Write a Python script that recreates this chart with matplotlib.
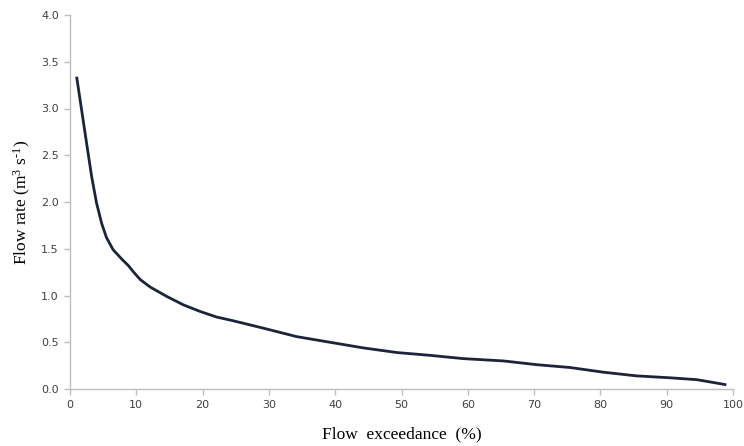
import numpy as np
import matplotlib.pyplot as plt

plt.rcParams['mathtext.fontset'] = 'custom'
plt.rcParams['mathtext.rm'] = 'Liberation Serif'
plt.rcParams['mathtext.it'] = 'Liberation Serif:italic'

# values
exceedance = [1.0, 1.76, 2.5, 3.27, 4.0, 4.78, 5.5, 6.5, 7.8, 8.8, 9.6, 10.6,
              12.1, 13.1, 14.6, 17.1, 19.6, 22.1, 24.6, 29.2, 34.2, 39.2, 44.2,
              49.3, 54.3, 59.3, 65.4, 70.4, 75.4, 80.4, 85.5, 90.5, 94.5, 97.0, 99.0]
flow = [3.34, 2.98, 2.63, 2.27, 1.99, 1.77, 1.62, 1.49, 1.39, 1.32, 1.25, 1.17,
        1.09, 1.05, 0.99, 0.90, 0.83, 0.77, 0.73, 0.65, 0.56, 0.50, 0.44,
        0.39, 0.36, 0.325, 0.30, 0.26, 0.23, 0.18, 0.14, 0.12, 0.10, 0.07, 0.045]

xticks = np.arange(0, 101, 10)
yticks = np.arange(0, 4.01, 0.5)

fig = plt.figure(figsize=(7.44, 4.46), dpi=100)
ax = fig.add_axes([70/744, 57/446, 663/744, 374/446])

ax.plot(exceedance, flow, color='#1b2438', lw=2.0, solid_capstyle='butt',
        solid_joinstyle='round')

ax.set_xlim(0, 100)
ax.set_ylim(0, 4.0)
ax.set_xticks(xticks)
ax.set_yticks(yticks)
ax.set_yticklabels(['%.1f' % v for v in yticks])

for s in ['top', 'right']:
    ax.spines[s].set_visible(False)
for s in ['left', 'bottom']:
    ax.spines[s].set_color('#bfbfbf')
    ax.spines[s].set_linewidth(1.0)
ax.tick_params(direction='out', length=4, width=1, color='#bfbfbf',
               labelsize=8, labelcolor='#404040', pad=4)

serif = {'family': 'Liberation Serif', 'size': 12.5}
ax.set_xlabel('Flow  exceedance  (%)', fontdict=serif, labelpad=12)
ax.set_ylabel('Flow rate (m$^\\mathrm{3}$ s$^{\\text{-1}}$)', fontdict=serif, labelpad=6)

fig.savefig('out.png', dpi=100)
